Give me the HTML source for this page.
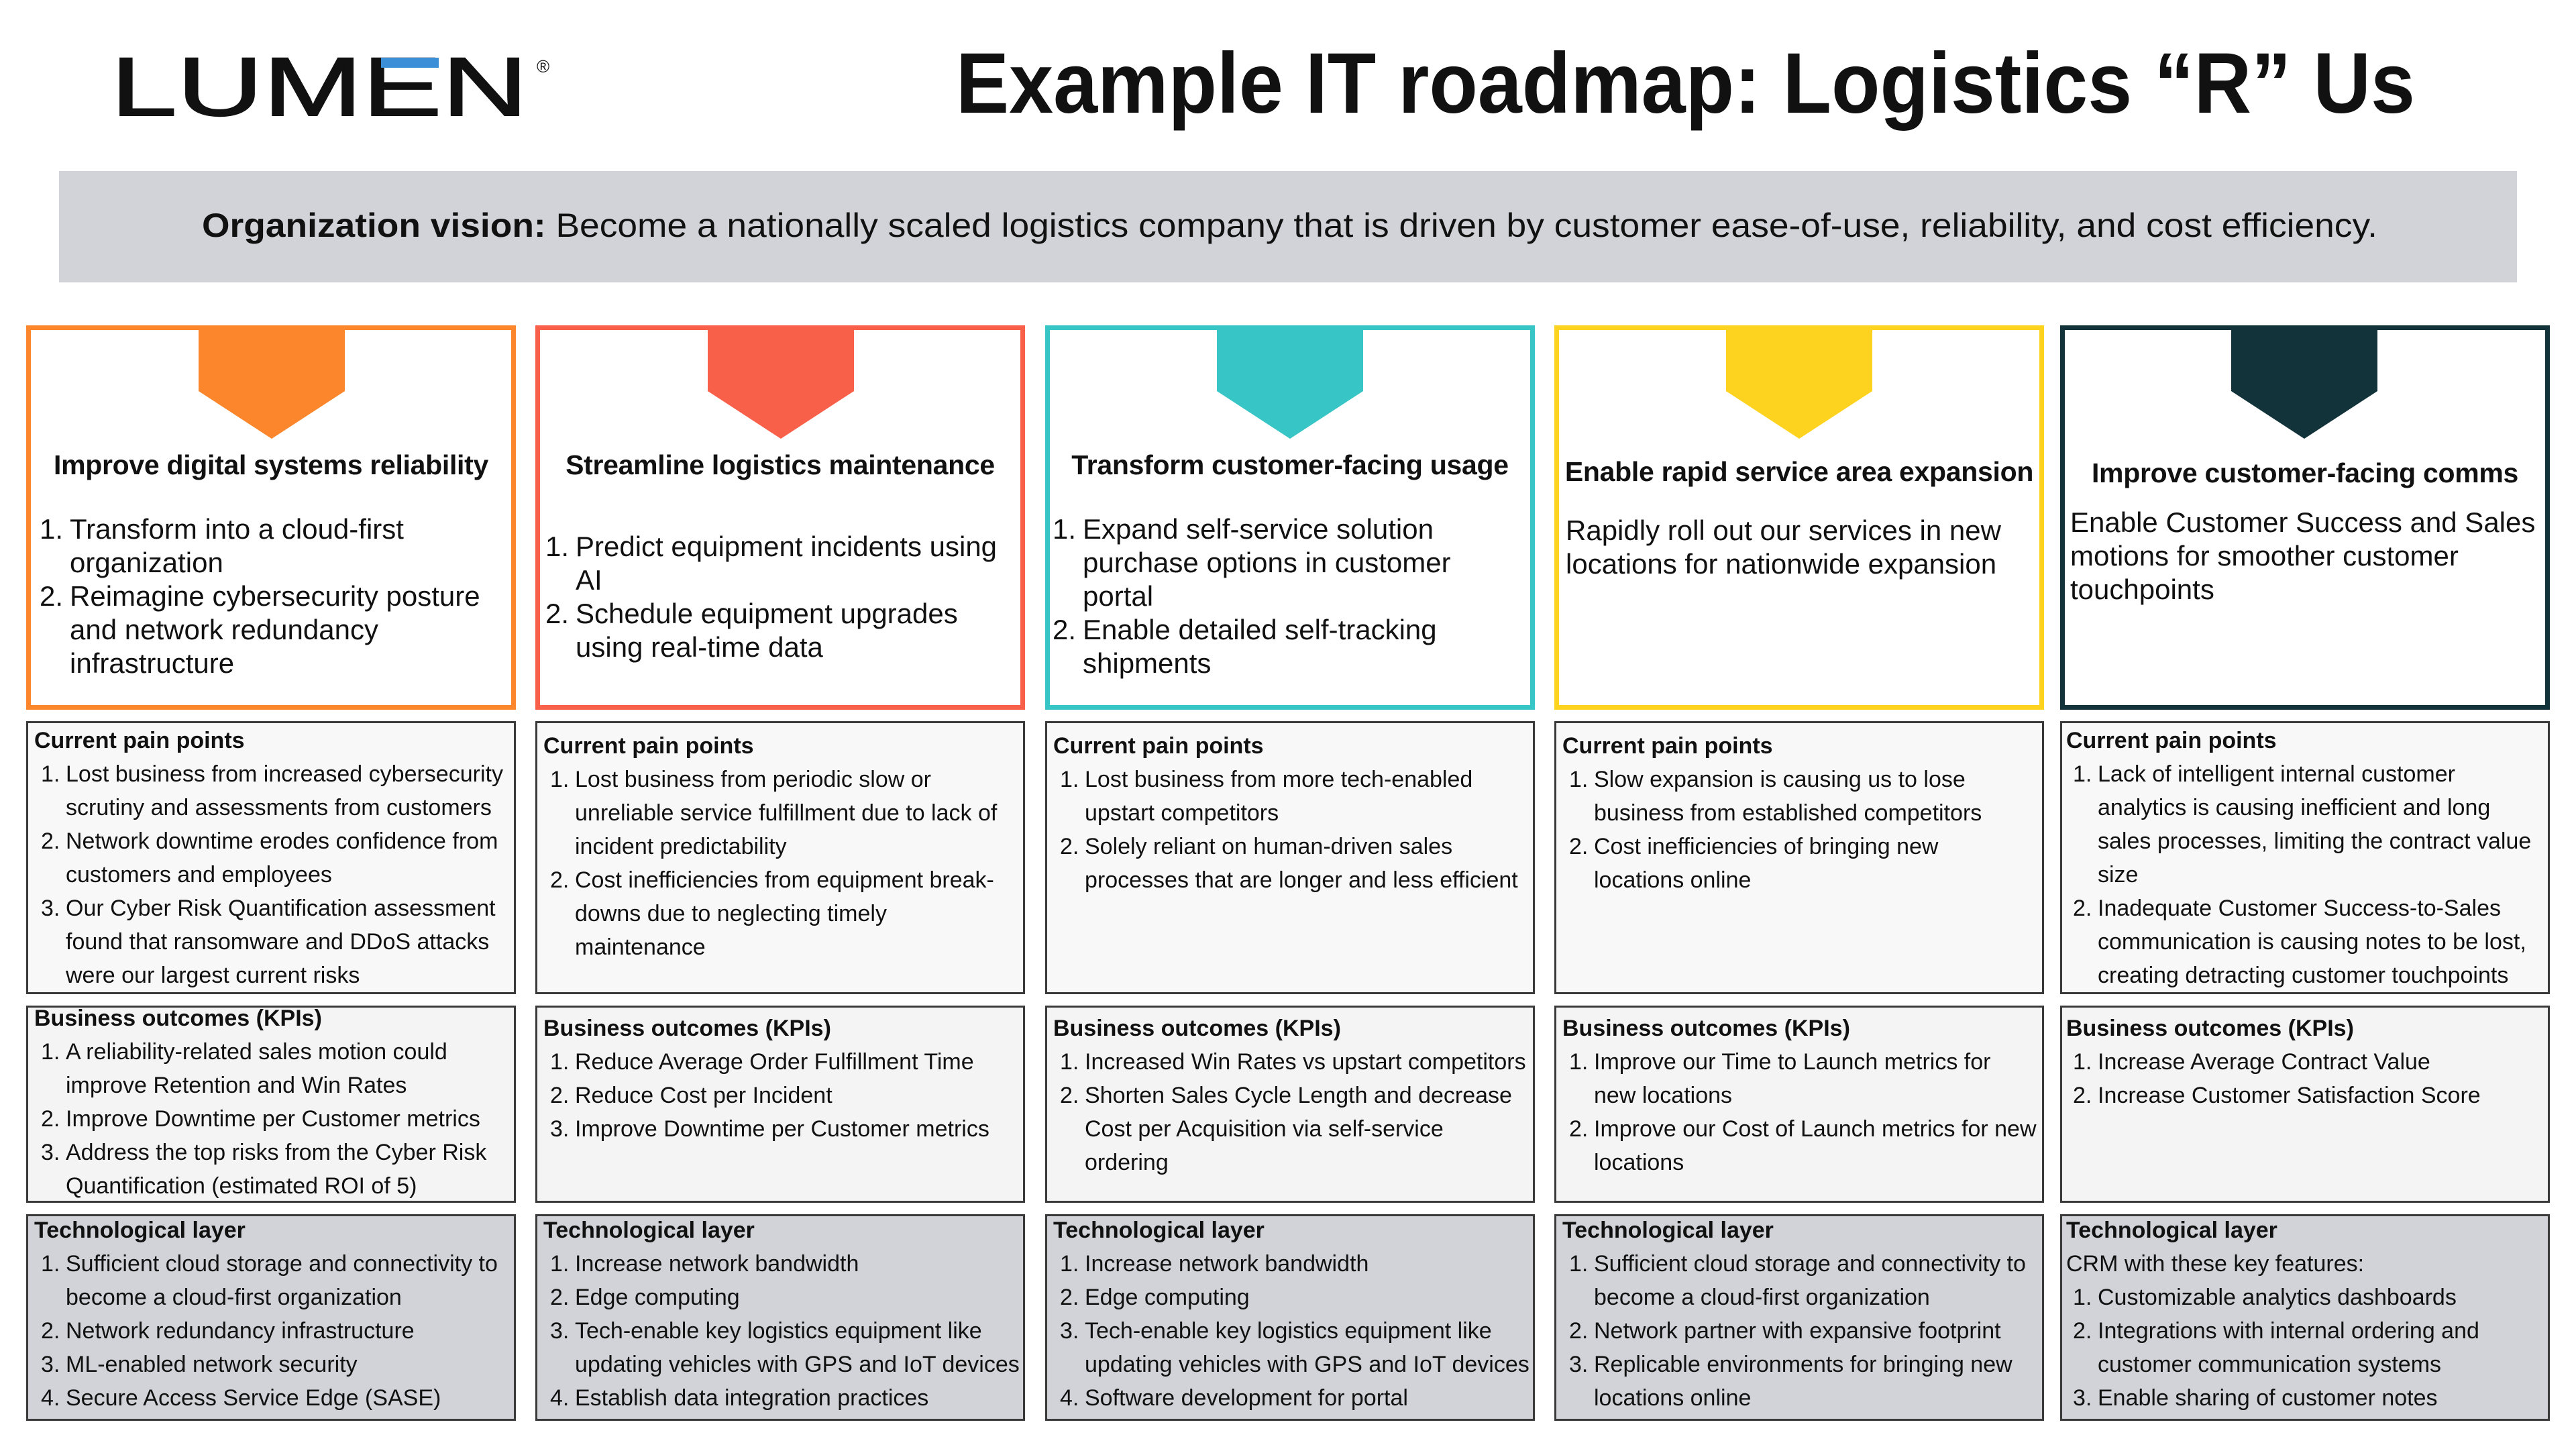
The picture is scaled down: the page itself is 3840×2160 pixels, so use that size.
<!DOCTYPE html>
<html><head><meta charset="utf-8">
<style>
html,body{margin:0;padding:0;background:#fff;}
body{width:3840px;height:2160px;position:relative;overflow:hidden;font-family:"Liberation Sans",Arial,sans-serif;color:#111;}
.top{position:absolute;top:485px;width:730px;height:573px;box-sizing:border-box;border:7px solid;}
.arrow{position:absolute;top:485px;width:218px;height:170px;}
.box{position:absolute;width:730px;box-sizing:border-box;border:3px solid #3a3a3a;}
.pain{top:1075px;height:407px;background:#f8f8f8;}
.kpi{top:1499px;height:294px;background:#f4f4f5;}
.tech{top:1810px;height:308px;background:#d1d3d8;}
.blk{position:absolute;font-size:34px;line-height:50px;white-space:nowrap;letter-spacing:0px;}
.blk .h{font-weight:bold;}
.blk .i,.blk .c{position:relative;padding-left:47px;}
.blk .n{position:absolute;left:10px;}
.hd{position:absolute;width:730px;text-align:center;font-weight:bold;font-size:41px;line-height:50px;letter-spacing:-0.3px;white-space:nowrap;}
.tb{position:absolute;font-size:42px;line-height:50px;white-space:nowrap;letter-spacing:0px;}
.tb .i,.tb .c{position:relative;padding-left:45px;}
.tb .n{position:absolute;left:0px;}
</style></head><body>

<svg style="position:absolute;left:0;top:0" width="3840" height="440">
  <text x="165" y="172" font-family="Liberation Sans, sans-serif" font-size="124" textLength="622" lengthAdjust="spacingAndGlyphs" fill="#111" stroke="#111" stroke-width="2">LUMEN</text>
  <rect x="568" y="86" width="86" height="15" fill="#3a8fd6"/>
  <text x="800" y="108" font-family="Liberation Sans, sans-serif" font-size="26" fill="#111">®</text>
  <text x="1425" y="168" font-family="Liberation Sans, sans-serif" font-weight="bold" font-size="128" textLength="2175" lengthAdjust="spacingAndGlyphs" fill="#111">Example IT roadmap: Logistics “R” Us</text>
  <rect x="88" y="255" width="3664" height="166" fill="#d1d3d8"/>
  <text x="301" y="353" font-family="Liberation Sans, sans-serif" font-size="50" textLength="3243" lengthAdjust="spacingAndGlyphs" fill="#111"><tspan font-weight="bold">Organization vision:</tspan> Become a nationally scaled logistics company that is driven by customer ease-of-use, reliability, and cost efficiency.</text>
</svg>

<div class="top" style="left:39px;border-color:#fb862b"></div>
<div class="top" style="left:798px;border-color:#f9604a"></div>
<div class="top" style="left:1558px;border-color:#37c5c6"></div>
<div class="top" style="left:2317px;border-color:#fdd31f"></div>
<div class="top" style="left:3071px;border-color:#13333a"></div>

<svg class="arrow" style="left:296px" viewBox="0 0 218 170"><polygon points="0,0 218,0 218,98 109,169 0,98" fill="#fb862b"/></svg>
<svg class="arrow" style="left:1055px" viewBox="0 0 218 170"><polygon points="0,0 218,0 218,98 109,169 0,98" fill="#f9604a"/></svg>
<svg class="arrow" style="left:1814px" viewBox="0 0 218 170"><polygon points="0,0 218,0 218,98 109,169 0,98" fill="#37c5c6"/></svg>
<svg class="arrow" style="left:2573px" viewBox="0 0 218 170"><polygon points="0,0 218,0 218,98 109,169 0,98" fill="#fdd31f"/></svg>
<svg class="arrow" style="left:3326px" viewBox="0 0 218 170"><polygon points="0,0 218,0 218,98 109,169 0,98" fill="#13333a"/></svg>

<div class="hd" style="left:39px;top:668px">Improve digital systems reliability</div>
<div class="hd" style="left:798px;top:668px">Streamline logistics maintenance</div>
<div class="hd" style="left:1558px;top:668px">Transform customer-facing usage</div>
<div class="hd" style="left:2317px;top:678px">Enable rapid service area expansion</div>
<div class="hd" style="left:3071px;top:680px">Improve customer-facing comms</div>

<div class="tb" style="left:59px;top:764px">
<div class="i"><span class="n">1.</span>Transform into a cloud-first</div>
<div class="c">organization</div>
<div class="i"><span class="n">2.</span>Reimagine cybersecurity posture</div>
<div class="c">and network redundancy</div>
<div class="c">infrastructure</div>
</div>
<div class="tb" style="left:813px;top:790px">
<div class="i"><span class="n">1.</span>Predict equipment incidents using</div>
<div class="c">AI</div>
<div class="i"><span class="n">2.</span>Schedule equipment upgrades</div>
<div class="c">using real-time data</div>
</div>
<div class="tb" style="left:1569px;top:764px">
<div class="i"><span class="n">1.</span>Expand self-service solution</div>
<div class="c">purchase options in customer</div>
<div class="c">portal</div>
<div class="i"><span class="n">2.</span>Enable detailed self-tracking</div>
<div class="c">shipments</div>
</div>
<div class="tb" style="left:2334px;top:766px">
<div>Rapidly roll out our services in new</div>
<div>locations for nationwide expansion</div>
</div>
<div class="tb" style="left:3086px;top:754px">
<div>Enable Customer Success and Sales</div>
<div>motions for smoother customer</div>
<div>touchpoints</div>
</div>

<div class="box pain" style="left:39px"></div><div class="box pain" style="left:798px"></div><div class="box pain" style="left:1558px"></div><div class="box pain" style="left:2317px"></div><div class="box pain" style="left:3071px"></div>
<div class="box kpi" style="left:39px"></div><div class="box kpi" style="left:798px"></div><div class="box kpi" style="left:1558px"></div><div class="box kpi" style="left:2317px"></div><div class="box kpi" style="left:3071px"></div>
<div class="box tech" style="left:39px"></div><div class="box tech" style="left:798px"></div><div class="box tech" style="left:1558px"></div><div class="box tech" style="left:2317px"></div><div class="box tech" style="left:3071px"></div>

<div class="blk" style="left:51px;top:1079px">
<div class="h">Current pain points</div>
<div class="i"><span class="n">1.</span>Lost business from increased cybersecurity</div>
<div class="c">scrutiny and assessments from customers</div>
<div class="i"><span class="n">2.</span>Network downtime erodes confidence from</div>
<div class="c">customers and employees</div>
<div class="i"><span class="n">3.</span>Our Cyber Risk Quantification assessment</div>
<div class="c">found that ransomware and DDoS attacks</div>
<div class="c">were our largest current risks</div>
</div>
<div class="blk" style="left:810px;top:1087px">
<div class="h">Current pain points</div>
<div class="i"><span class="n">1.</span>Lost business from periodic slow or</div>
<div class="c">unreliable service fulfillment due to lack of</div>
<div class="c">incident predictability</div>
<div class="i"><span class="n">2.</span>Cost inefficiencies from equipment break-</div>
<div class="c">downs due to neglecting timely</div>
<div class="c">maintenance</div>
</div>
<div class="blk" style="left:1570px;top:1087px">
<div class="h">Current pain points</div>
<div class="i"><span class="n">1.</span>Lost business from more tech-enabled</div>
<div class="c">upstart competitors</div>
<div class="i"><span class="n">2.</span>Solely reliant on human-driven sales</div>
<div class="c">processes that are longer and less efficient</div>
</div>
<div class="blk" style="left:2329px;top:1087px">
<div class="h">Current pain points</div>
<div class="i"><span class="n">1.</span>Slow expansion is causing us to lose</div>
<div class="c">business from established competitors</div>
<div class="i"><span class="n">2.</span>Cost inefficiencies of bringing new</div>
<div class="c">locations online</div>
</div>
<div class="blk" style="left:3080px;top:1079px">
<div class="h">Current pain points</div>
<div class="i"><span class="n">1.</span>Lack of intelligent internal customer</div>
<div class="c">analytics is causing inefficient and long</div>
<div class="c">sales processes, limiting the contract value</div>
<div class="c">size</div>
<div class="i"><span class="n">2.</span>Inadequate Customer Success-to-Sales</div>
<div class="c">communication is causing notes to be lost,</div>
<div class="c">creating detracting customer touchpoints</div>
</div>

<div class="blk" style="left:51px;top:1493px">
<div class="h">Business outcomes (KPIs)</div>
<div class="i"><span class="n">1.</span>A reliability-related sales motion could</div>
<div class="c">improve Retention and Win Rates</div>
<div class="i"><span class="n">2.</span>Improve Downtime per Customer metrics</div>
<div class="i"><span class="n">3.</span>Address the top risks from the Cyber Risk</div>
<div class="c">Quantification (estimated ROI of 5)</div>
</div>
<div class="blk" style="left:810px;top:1508px">
<div class="h">Business outcomes (KPIs)</div>
<div class="i"><span class="n">1.</span>Reduce Average Order Fulfillment Time</div>
<div class="i"><span class="n">2.</span>Reduce Cost per Incident</div>
<div class="i"><span class="n">3.</span>Improve Downtime per Customer metrics</div>
</div>
<div class="blk" style="left:1570px;top:1508px">
<div class="h">Business outcomes (KPIs)</div>
<div class="i"><span class="n">1.</span>Increased Win Rates vs upstart competitors</div>
<div class="i"><span class="n">2.</span>Shorten Sales Cycle Length and decrease</div>
<div class="c">Cost per Acquisition via self-service</div>
<div class="c">ordering</div>
</div>
<div class="blk" style="left:2329px;top:1508px">
<div class="h">Business outcomes (KPIs)</div>
<div class="i"><span class="n">1.</span>Improve our Time to Launch metrics for</div>
<div class="c">new locations</div>
<div class="i"><span class="n">2.</span>Improve our Cost of Launch metrics for new</div>
<div class="c">locations</div>
</div>
<div class="blk" style="left:3080px;top:1508px">
<div class="h">Business outcomes (KPIs)</div>
<div class="i"><span class="n">1.</span>Increase Average Contract Value</div>
<div class="i"><span class="n">2.</span>Increase Customer Satisfaction Score</div>
</div>

<div class="blk" style="left:51px;top:1809px">
<div class="h">Technological layer</div>
<div class="i"><span class="n">1.</span>Sufficient cloud storage and connectivity to</div>
<div class="c">become a cloud-first organization</div>
<div class="i"><span class="n">2.</span>Network redundancy infrastructure</div>
<div class="i"><span class="n">3.</span>ML-enabled network security</div>
<div class="i"><span class="n">4.</span>Secure Access Service Edge (SASE)</div>
</div>
<div class="blk" style="left:810px;top:1809px">
<div class="h">Technological layer</div>
<div class="i"><span class="n">1.</span>Increase network bandwidth</div>
<div class="i"><span class="n">2.</span>Edge computing</div>
<div class="i"><span class="n">3.</span>Tech-enable key logistics equipment like</div>
<div class="c">updating vehicles with GPS and IoT devices</div>
<div class="i"><span class="n">4.</span>Establish data integration practices</div>
</div>
<div class="blk" style="left:1570px;top:1809px">
<div class="h">Technological layer</div>
<div class="i"><span class="n">1.</span>Increase network bandwidth</div>
<div class="i"><span class="n">2.</span>Edge computing</div>
<div class="i"><span class="n">3.</span>Tech-enable key logistics equipment like</div>
<div class="c">updating vehicles with GPS and IoT devices</div>
<div class="i"><span class="n">4.</span>Software development for portal</div>
</div>
<div class="blk" style="left:2329px;top:1809px">
<div class="h">Technological layer</div>
<div class="i"><span class="n">1.</span>Sufficient cloud storage and connectivity to</div>
<div class="c">become a cloud-first organization</div>
<div class="i"><span class="n">2.</span>Network partner with expansive footprint</div>
<div class="i"><span class="n">3.</span>Replicable environments for bringing new</div>
<div class="c">locations online</div>
</div>
<div class="blk" style="left:3080px;top:1809px">
<div class="h">Technological layer</div>
<div>CRM with these key features:</div>
<div class="i"><span class="n">1.</span>Customizable analytics dashboards</div>
<div class="i"><span class="n">2.</span>Integrations with internal ordering and</div>
<div class="c">customer communication systems</div>
<div class="i"><span class="n">3.</span>Enable sharing of customer notes</div>
</div>

</body></html>
